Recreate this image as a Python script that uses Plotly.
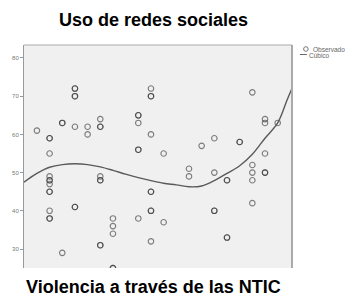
import plotly.graph_objects as go

# Observed values (x = column index along "Violencia a través de las NTIC", y = "Uso de redes sociales")
obs_x = [0,
         1, 1, 1, 1, 1, 1, 1, 1, 1, 1, 1, 1,
         2, 2, 2,
         3, 3, 3, 3, 3, 3, 3,
         4, 4,
         5, 5, 5, 5, 5, 5, 5, 5,
         6, 6, 6, 6, 6,
         8, 8, 8, 8, 8, 8,
         9, 9, 9, 9, 9, 9, 9, 9, 9,
         10, 10,
         12, 12,
         13,
         14, 14, 14, 14,
         15, 15, 15, 15,
         16, 16,
         17, 17, 17, 17, 17,
         18, 18, 18, 18, 18,
         19]
obs_y = [61,
         59, 59, 55, 49, 48, 48, 47, 45, 45, 40, 38, 38,
         63, 63, 29,
         72, 72, 70, 70, 62, 41, 41,
         62, 60,
         64, 62, 62, 49, 48, 48, 31, 31,
         38, 36, 34, 25, 25,
         65, 65, 63, 56, 56, 38,
         72, 70, 70, 60, 45, 45, 40, 40, 32,
         55, 37,
         51, 49,
         57,
         59, 50, 40, 40,
         48, 48, 33, 33,
         58, 58,
         71, 52, 50, 48, 42,
         64, 63, 55, 50, 50,
         63]

# Cubic fit curve
curve_x = [-1.02, 0, 1, 2, 3, 4, 5, 6, 7, 8, 9, 10, 11, 12, 13, 14, 15, 16, 17, 18, 19, 19.74, 20.13]
curve_y = [47.5, 49.8, 51.4, 52.1, 52.3, 52.1, 51.5, 50.6, 49.6, 48.7, 47.9, 47.2, 46.8, 46.3,
           46.5, 47.9, 49.8, 51.8, 54.8, 59.0, 63.0, 69.0, 72.1]

y_ticks = [30, 40, 50, 60, 70, 80]

title_text = "Uso de redes sociales"
xlabel_text = "Violencia a través de las NTIC"
legend_labels = ["Observado", "Cúbico"]

W, H = 345, 297
L, R, T, B = 22, 53, 45, 29
pw, ph = W - L - R, H - T - B

def px2paper_x(px):
    return (px - L) / pw

def px2paper_y(py):
    return 1 - (py - T) / ph

fig = go.Figure()
fig.add_trace(go.Scatter(
    x=obs_x, y=obs_y, mode="markers",
    marker=dict(symbol="circle-open", size=5.5, color="rgba(45,45,45,0.6)",
                line=dict(width=1.1)),
    showlegend=False, cliponaxis=True))
fig.add_trace(go.Scatter(
    x=curve_x, y=curve_y, mode="lines", line=dict(color="#5a5a5a", width=1.4, shape="spline"),
    showlegend=False))

font_family = "Liberation Sans, Arial, sans-serif"

fig.update_layout(
    width=W, height=H,
    margin=dict(l=L, r=R, t=T, b=B, pad=0),
    paper_bgcolor="white", plot_bgcolor="#f0f0f0",
    font=dict(family=font_family),
    xaxis=dict(range=[-1.02, 20.13], showgrid=False, zeroline=False, showticklabels=False,
               showline=False, ticks=""),
    yaxis=dict(range=[25.03, 83.4], showgrid=False, zeroline=False, tickvals=y_ticks,
               ticks="outside", ticklen=3, tickcolor="#999", tickwidth=1,
               tickfont=dict(size=6, color="#777", family=font_family),
               showline=True, linecolor="#999", linewidth=1),
    shapes=[
        dict(type="line", xref="paper", yref="paper", x0=0, x1=1, y0=1, y1=1,
             line=dict(color="#aaa", width=1.2)),
        dict(type="line", xref="paper", yref="paper", x0=1, x1=1, y0=0, y1=1,
             line=dict(color="#aaa", width=2)),
        dict(type="circle", xref="paper", yref="paper",
             x0=px2paper_x(303.7), x1=px2paper_x(308.3), y0=px2paper_y(51.3), y1=px2paper_y(46.7),
             line=dict(color="#777", width=1)),
        dict(type="line", xref="paper", yref="paper",
             x0=px2paper_x(300), x1=px2paper_x(307), y0=px2paper_y(54.5), y1=px2paper_y(54.5),
             line=dict(color="#666", width=1)),
    ],
    annotations=[
        dict(text="<b>%s</b>" % title_text, xref="paper", yref="paper",
             x=px2paper_x(152), y=px2paper_y(20), xanchor="center", yanchor="middle",
             showarrow=False, font=dict(size=18, color="black", family=font_family)),
        dict(text="<b>%s</b>" % xlabel_text, xref="paper", yref="paper",
             x=px2paper_x(152), y=px2paper_y(286.5), xanchor="center", yanchor="middle",
             showarrow=False, font=dict(size=18, color="black", family=font_family)),
        dict(text=legend_labels[0], xref="paper", yref="paper",
             x=px2paper_x(311), y=px2paper_y(49), xanchor="left", yanchor="middle",
             showarrow=False, font=dict(size=6.5, color="#666", family=font_family)),
        dict(text=legend_labels[1], xref="paper", yref="paper",
             x=px2paper_x(307.5), y=px2paper_y(55), xanchor="left", yanchor="middle",
             showarrow=False, font=dict(size=6.5, color="#666", family=font_family)),
    ],
)

fig.write_html("out.html", config={"displayModeBar": False},
               post_script="document.body.style.margin='0';")
